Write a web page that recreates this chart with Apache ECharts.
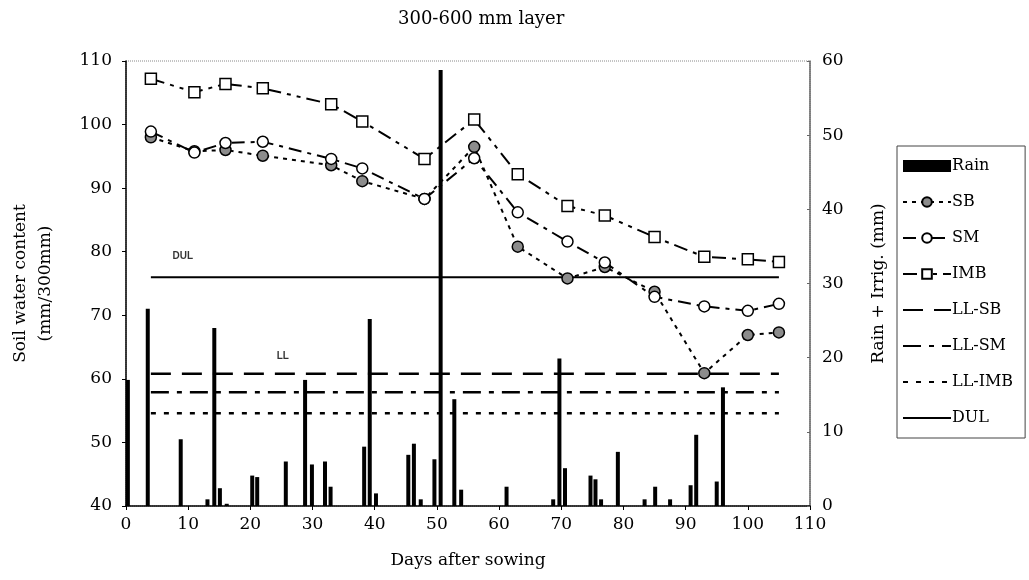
<!DOCTYPE html>
<html>
<head>
<meta charset="utf-8">
<script src="https://cdn.jsdelivr.net/npm/echarts@6/dist/echarts.min.js"></script>
<style>
  html, body { margin: 0; padding: 0; background: #fff; }
  #chart { width: 1029px; height: 580px; }
</style>
</head>
<body>
<div id="chart"></div>
<script>
// Sampling days for soil water measurements
const sampleDays = [4, 11, 16, 22, 33, 38, 48, 56, 63, 71, 77, 85, 93, 100, 105];
// Soil water content (mm/300mm) per treatment
const sbValues  = [98.0, 95.8, 96.0, 95.1, 93.6, 91.1, 88.3, 96.5, 80.8, 75.8, 77.6, 73.7, 60.9, 66.9, 67.3];
const smValues  = [98.9, 95.6, 97.1, 97.3, 94.6, 93.1, 88.3, 94.7, 86.2, 81.6, 78.3, 72.9, 71.4, 70.7, 71.8];
const imbValues = [107.2, 105.1, 106.4, 105.7, 103.2, 100.5, 94.6, 100.8, 92.2, 87.2, 85.7, 82.3, 79.2, 78.8, 78.4];

// Rain + irrigation events: day and amount (mm)
const rainDays = [0.3, 3.5, 8.8, 13.1, 14.2, 15.1, 16.2, 20.3, 21.1, 25.7, 28.8, 29.9, 32.0, 32.9,
                  38.3, 39.2, 40.2, 45.4, 46.3, 47.4, 49.6, 50.6, 52.8, 53.9, 61.2, 68.7, 69.7, 70.6,
                  74.7, 75.5, 76.4, 79.1, 83.4, 85.1, 87.5, 90.8, 91.7, 95.0, 96.0];
const rainAmounts = [17.0, 26.6, 9.0, 0.9, 24.0, 2.4, 0.3, 4.1, 3.9, 6.0, 17.0, 5.6, 6.0, 2.6,
                     8.0, 25.2, 1.7, 6.9, 8.4, 0.9, 6.3, 58.8, 14.4, 2.2, 2.6, 0.9, 19.9, 5.1,
                     4.1, 3.6, 0.9, 7.3, 0.9, 2.6, 0.9, 2.8, 9.6, 3.3, 16.0];

// Reference levels (mm/300mm) and their day span
const levelSpan = [4, 105];
const dulLevel = 76.0;
const llSbLevel = 60.8;
const llSmLevel = 57.9;
const llImbLevel = 54.6;

// Axis settings
const xTicks = { min: 0, max: 110, interval: 10 };
const swcTicks = { min: 40, max: 110, interval: 10 };
const rainTicks = { min: 0, max: 60, interval: 10 };

const serif = 'DejaVu Serif';
const pair = (xs, ys) => xs.map((x, i) => [x, ys[i]]);
const levelLine = (lvl) => levelSpan.map(d => [d, lvl]);

// Small tag drawn next to the start of a reference line
const tagStyle = { fontFamily: 'Liberation Sans', fontSize: 10, fontWeight: 'bold', color: '#000' };
const levelTag = (text, lvl, offset) => ({
  type: 'scatter', symbol: 'circle', symbolSize: 0, silent: true, z: 7,
  label: { show: true, formatter: text, position: 'top', offset, ...tagStyle },
  data: [levelLine(lvl)[0]]
});

const noMarker = { color: 'transparent', borderWidth: 0 };

const chart = echarts.init(document.getElementById('chart'), null, { renderer: 'canvas' });

chart.setOption({
  animation: false,
  backgroundColor: '#ffffff',
  textStyle: { fontFamily: serif, color: '#000' },
  title: {
    text: '300-600 mm layer',
    left: 393, top: 5,
    textStyle: { fontFamily: serif, fontSize: 18, fontWeight: 'normal', color: '#000' }
  },
  grid: {
    left: 112, right: 219, top: 61, bottom: 74,
    show: true, borderColor: '#888', borderWidth: 1, borderType: 'dotted'
  },
  legend: {
    orient: 'vertical',
    left: 897, top: 146,
    itemWidth: 48, itemHeight: 12, itemGap: 20,
    textStyle: { fontFamily: serif, fontSize: 16, color: '#000', padding: [0, 0, 0, -4] },
    borderColor: '#444', borderWidth: 1, padding: [12, 12, 12, 5],
    data: [
      { name: 'Rain', icon: 'rect', itemStyle: { color: '#000' } },
      'SB', 'SM', 'IMB',
      { name: 'LL-SB', itemStyle: noMarker },
      { name: 'LL-SM', itemStyle: noMarker },
      { name: 'LL-IMB', itemStyle: noMarker },
      { name: 'DUL', itemStyle: noMarker }
    ]
  },
  xAxis: {
    type: 'value', ...xTicks,
    name: 'Days after sowing', nameLocation: 'middle', nameGap: 46,
    nameTextStyle: { fontFamily: serif, fontSize: 17, color: '#000' },
    axisLine: { show: true, lineStyle: { color: '#000', width: 1.5 } },
    axisTick: { show: true, length: 4, lineStyle: { color: '#000' } },
    axisLabel: { fontFamily: serif, fontSize: 17, color: '#000', margin: 10 },
    splitLine: { show: false }
  },
  yAxis: [
    {
      type: 'value', ...swcTicks, position: 'left',
      name: 'Soil water content\n(mm/300mm)', nameLocation: 'middle', nameGap: 68, nameRotate: 90,
      nameTextStyle: { fontFamily: serif, fontSize: 17, color: '#000', lineHeight: 25 },
      axisLine: { show: true, lineStyle: { color: '#000', width: 1.5 } },
      axisTick: { show: true, length: 4, lineStyle: { color: '#000' } },
      axisLabel: { fontFamily: serif, fontSize: 17, color: '#000', margin: 14 },
      splitLine: { show: false }
    },
    {
      type: 'value', ...rainTicks, position: 'right',
      name: 'Rain + Irrig. (mm)', nameLocation: 'middle', nameGap: 60, nameRotate: 90,
      nameTextStyle: { fontFamily: serif, fontSize: 17, color: '#000' },
      axisLine: { show: true, lineStyle: { color: '#666', width: 1.5 } },
      axisTick: { show: true, inside: true, length: 3, lineStyle: { color: '#666' } },
      axisLabel: { fontFamily: serif, fontSize: 17, color: '#000', margin: 12 },
      splitLine: { show: false }
    }
  ],
  series: [
    {
      name: 'Rain', type: 'bar', yAxisIndex: 1, barWidth: 4, z: 1,
      itemStyle: { color: '#000' },
      data: pair(rainDays, rainAmounts)
    },
    {
      name: 'SB', type: 'line', z: 5,
      symbol: 'circle', symbolSize: 11,
      itemStyle: { color: '#8c8c8c', borderColor: '#000', borderWidth: 1.5 },
      lineStyle: { color: '#000', width: 2, type: [4, 5] },
      data: pair(sampleDays, sbValues)
    },
    {
      name: 'SM', type: 'line', z: 6,
      symbol: 'circle', symbolSize: 11,
      itemStyle: { color: '#fff', borderColor: '#000', borderWidth: 1.5 },
      lineStyle: { color: '#000', width: 2, type: [13, 6, 4, 6] },
      data: pair(sampleDays, smValues)
    },
    {
      name: 'IMB', type: 'line', z: 6,
      symbol: 'rect', symbolSize: 11,
      itemStyle: { color: '#fff', borderColor: '#000', borderWidth: 1.5 },
      lineStyle: { color: '#000', width: 2, type: [14, 6, 4, 6, 4, 6] },
      data: pair(sampleDays, imbValues)
    },
    {
      name: 'LL-SB', type: 'line', z: 3, symbol: 'none',
      lineStyle: { color: '#000', width: 2.5, type: [20, 11] },
      itemStyle: { color: '#000' },
      data: levelLine(llSbLevel)
    },
    {
      name: 'LL-SM', type: 'line', z: 3, symbol: 'none',
      lineStyle: { color: '#000', width: 2.5, type: [18, 8, 5, 8] },
      itemStyle: { color: '#000' },
      data: levelLine(llSmLevel)
    },
    {
      name: 'LL-IMB', type: 'line', z: 3, symbol: 'none',
      lineStyle: { color: '#000', width: 2.5, type: [5, 8] },
      itemStyle: { color: '#000' },
      data: levelLine(llImbLevel)
    },
    {
      name: 'DUL', type: 'line', z: 3, symbol: 'none',
      lineStyle: { color: '#000', width: 2 },
      itemStyle: { color: '#000' },
      data: levelLine(dulLevel)
    },
    levelTag('DUL', dulLevel, [32, -11]),
    levelTag('LL', llSbLevel, [132, -8])
  ]
});
</script>
</body>
</html>
